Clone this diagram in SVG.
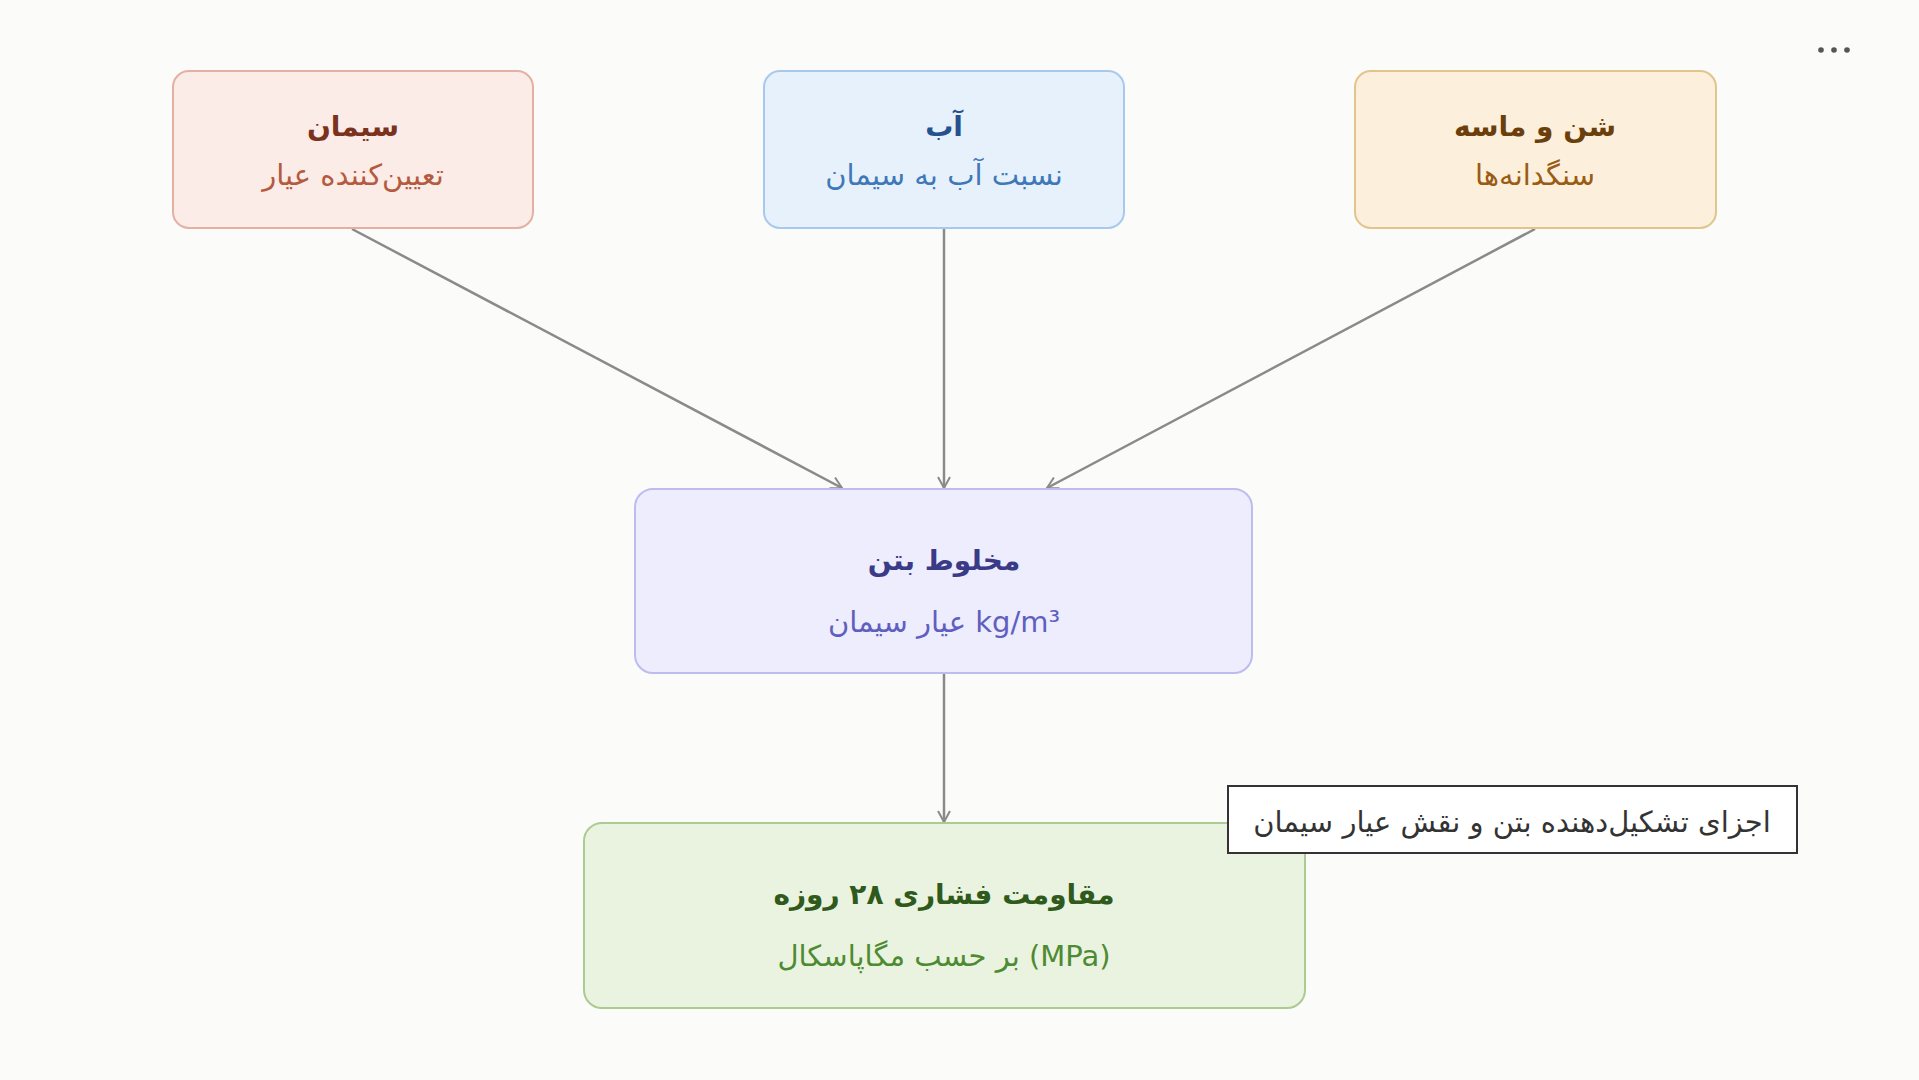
<svg xmlns="http://www.w3.org/2000/svg" width="1919" height="1080" viewBox="0 0 1919 1080">
  <defs>
    <marker id="arr" viewBox="0 0 14 14" refX="12" refY="7" markerWidth="14" markerHeight="14" markerUnits="userSpaceOnUse" orient="auto">
      <path d="M1,1 L12,7 L1,13" fill="none" stroke="#8a8a8a" stroke-width="2"/>
    </marker>
    <style>
      text { font-family: "DejaVu Sans", sans-serif; direction: rtl; text-anchor: middle; }
      .t { font-size: 28px; font-weight: bold; }
      .s { font-size: 29px; }
      .box { stroke-width: 2; }
      .edge { stroke: #8a8a8a; stroke-width: 2.5; fill: none; marker-end: url(#arr); }
    </style>
  </defs>
  <rect width="1919" height="1080" fill="#fbfbf9"/>

  <g id="edges">
    <line class="edge" x1="352" y1="229" x2="842" y2="488"/>
    <line class="edge" x1="944" y1="229" x2="944" y2="488"/>
    <line class="edge" x1="1535" y1="229" x2="1047" y2="488"/>
    <line class="edge" x1="944" y1="673" x2="944" y2="822"/>
  </g>

  <g id="cement">
    <rect class="box" x="173" y="71" width="360" height="157" rx="16" fill="#fbece7" stroke="#e4b0a4"/>
    <text class="t" x="353" y="136" fill="#7a321f">سیمان</text>
    <text class="s" x="353" y="185" fill="#b35a3f">تعیین‌کننده عیار</text>
  </g>

  <g id="water">
    <rect class="box" x="764" y="71" width="360" height="157" rx="16" fill="#e6f1fc" stroke="#a9c9ec"/>
    <text class="t" x="944" y="136" fill="#24528c">آب</text>
    <text class="s" x="944" y="185" fill="#3f78b8">نسبت آب به سیمان</text>
  </g>

  <g id="aggregate">
    <rect class="box" x="1355" y="71" width="361" height="157" rx="16" fill="#fcefdc" stroke="#e2c48f"/>
    <text class="t" x="1535" y="136" fill="#6b3f0c">شن و ماسه</text>
    <text class="s" x="1535" y="185" fill="#9a5c14">سنگدانه‌ها</text>
  </g>

  <g id="mix">
    <rect class="box" x="635" y="489" width="617" height="184" rx="18" fill="#ededfd" stroke="#bcbcf0"/>
    <text class="t" x="944" y="570" fill="#3a3a86">مخلوط بتن</text>
    <text class="s" x="944" y="632" fill="#5f5fc0">kg/m³ عیار سیمان</text>
  </g>

  <g id="strength">
    <rect class="box" x="584" y="823" width="721" height="185" rx="18" fill="#e9f3e0" stroke="#aacc92"/>
    <text class="t" x="944" y="904" font-size="27" fill="#2f5a1c">مقاومت فشاری ۲۸ روزه</text>
    <text class="s" x="944" y="966" fill="#4e8a32">(MPa) بر حسب مگاپاسکال</text>
  </g>

  <g id="tooltip">
    <rect x="1228" y="786" width="569" height="67" fill="#ffffff" stroke="#333333" stroke-width="2"/>
    <text x="1512" y="832" font-size="29" fill="#333333">اجزای تشکیل‌دهنده بتن و نقش عیار سیمان</text>
  </g>

  <g id="menu" fill="#555555">
    <circle cx="1821" cy="50" r="2.8"/>
    <circle cx="1834" cy="50" r="2.8"/>
    <circle cx="1847" cy="50" r="2.8"/>
  </g>
</svg>
